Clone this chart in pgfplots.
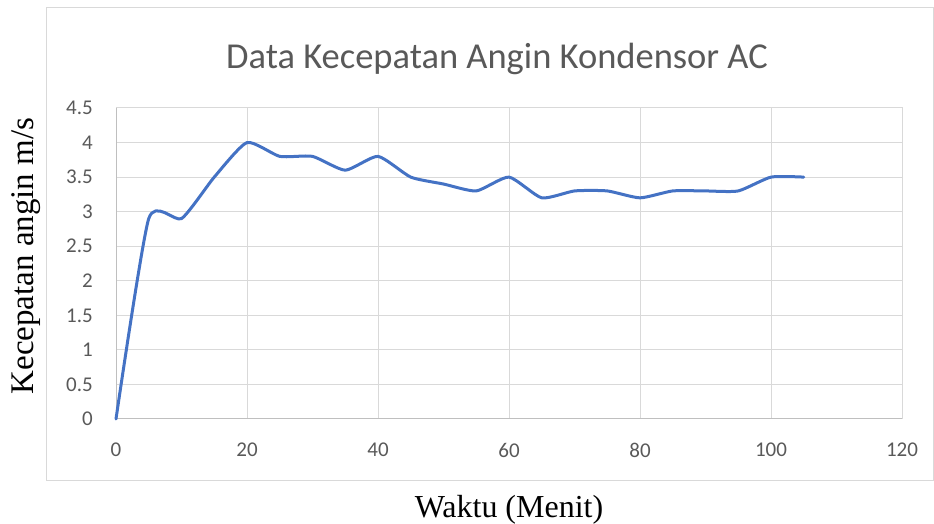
\documentclass[border=0pt]{standalone}
\usepackage{pgfplots}
\pgfplotsset{compat=1.18}
\usepackage{fontspec}
\setmainfont{Liberation Serif}
\newfontfamily\calibri{Carlito}
\definecolor{linblue}{HTML}{4472C4}
\definecolor{gridgray}{HTML}{D9D9D9}
\definecolor{axgray}{HTML}{BFBFBF}
\definecolor{txtgray}{HTML}{595959}
\pgfplotstableread{
x y
0 0
5 2.9
10 2.9
15 3.5
20 4.0
25 3.8
30 3.8
35 3.6
40 3.8
45 3.5
50 3.4
55 3.3
60 3.5
65 3.2
70 3.3
75 3.3
80 3.2
85 3.3
90 3.3
95 3.3
100 3.5
105 3.5
}\datatable
\begin{document}
\begin{tikzpicture}
\path[use as bounding box] (0pt,0pt) rectangle (934pt,524pt);
\draw[gridgray, line width=1pt] (46pt,43pt) rectangle (933pt,516pt);
\begin{axis}[
  at={(116pt,105pt)}, anchor=south west,
  scale only axis, width=786pt, height=311pt,
  xmin=0, xmax=120, ymin=0, ymax=4.5,
  xtick={0,20,40,60,80,100,120},
  ytick={0,0.5,1,1.5,2,2.5,3,3.5,4,4.5},
  grid=major,
  major grid style={draw=gridgray, line width=1pt},
  axis line style={draw=gridgray, line width=1pt},
  major tick length=0pt,
  /pgf/number format/assume math mode=true,
  ticklabel style={font=\fontsize{21}{21}\selectfont\calibri, text=txtgray, inner sep=0pt},
  yticklabel style={anchor=east, xshift=-23pt},
  xticklabel style={anchor=north, yshift=-24pt},
  clip=false,
]
\draw[axgray, line width=1pt] (rel axis cs:0,1) -- (rel axis cs:0,0) -- (rel axis cs:1,0);
\addplot[linblue, line width=3pt, smooth, tension=0.35, line cap=round, line join=round] table[x=x,y=y] {\datatable};
\end{axis}
\node[anchor=base, font=\fontsize{36.5}{36.5}\selectfont\calibri, text=txtgray] at (497pt,455pt) {Data Kecepatan Angin Kondensor AC};
\node[anchor=base, rotate=90, font=\fontsize{33}{33}\selectfont] at (33pt,268pt) {Kecepatan angin m/s};
\node[anchor=base, font=\fontsize{32}{32}\selectfont] at (509pt,6pt) {Waktu (Menit)};
\end{tikzpicture}
\end{document}
